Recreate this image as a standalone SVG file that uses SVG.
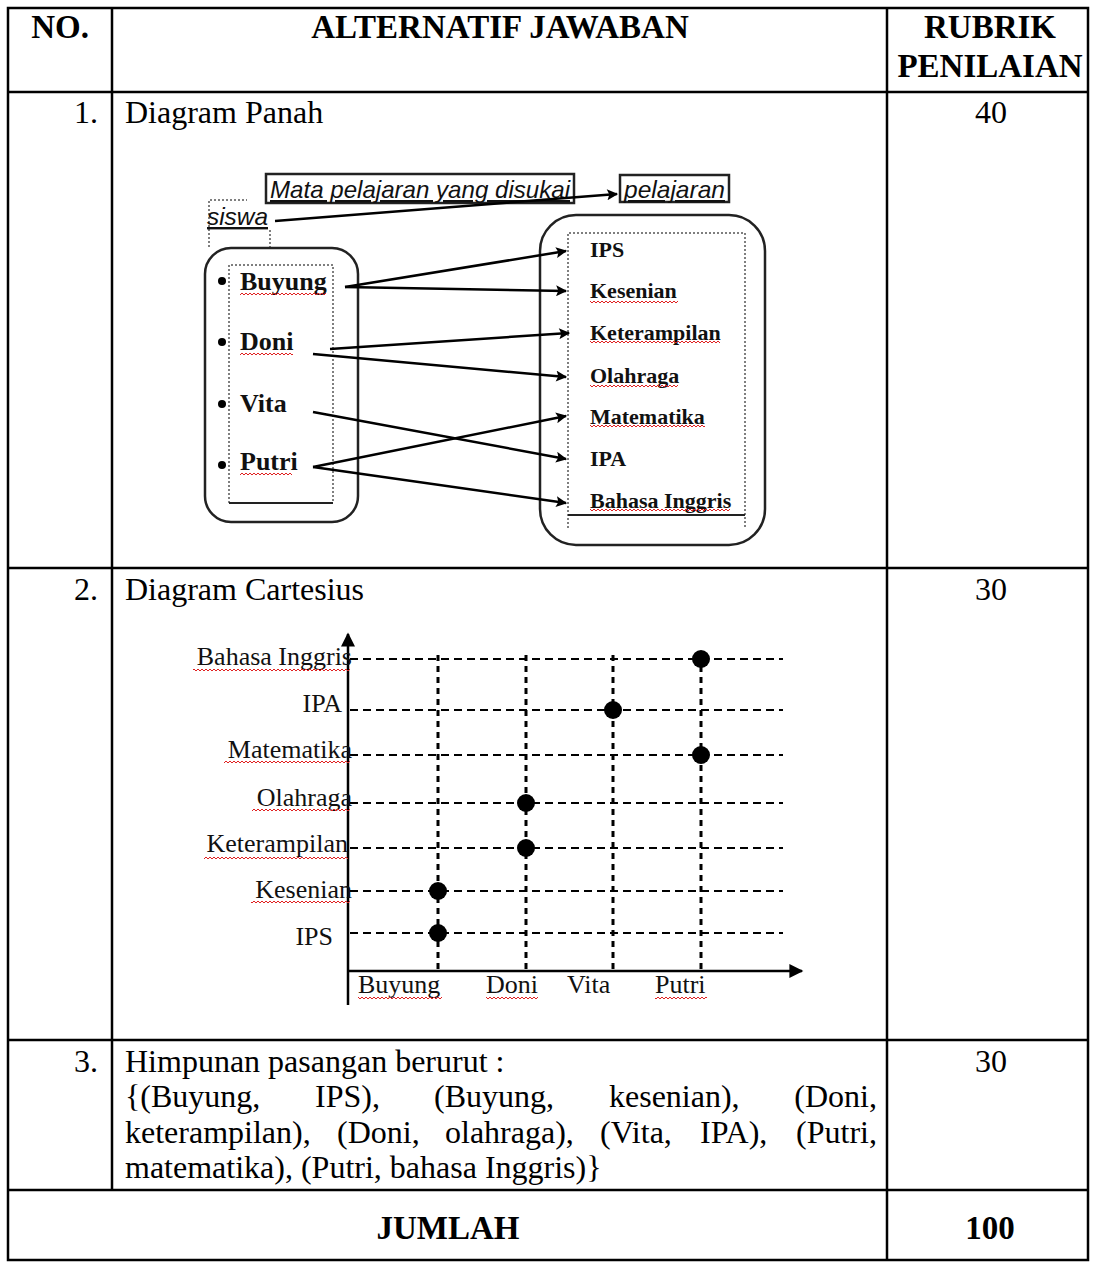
<svg xmlns="http://www.w3.org/2000/svg" width="1093" height="1265" viewBox="0 0 1093 1265">
<style>
.tb{fill:none;stroke:#000;stroke-width:2.5}
.t{font-family:"Liberation Serif","Times New Roman",serif;font-size:32px;fill:#000}
.h{font-size:33px;font-weight:bold}
.b{font-weight:bold}
.c{text-anchor:middle}
.e{text-anchor:end}
.nm{font-family:"Liberation Serif","Times New Roman",serif;font-size:26px;font-weight:bold;fill:#111}
.it{font-family:"Liberation Sans",Arial,sans-serif;font-size:24px;font-style:italic;fill:#111;text-decoration:underline}
.rt{font-family:"Liberation Serif","Times New Roman",serif;font-size:22px;font-weight:bold;fill:#111}
.cl{font-family:"Liberation Serif","Times New Roman",serif;font-size:26px;fill:#111}
.ln{stroke:#000;stroke-width:2.5;fill:none}
.box{fill:none;stroke:#222;stroke-width:2.5}
.dot{fill:none;stroke:#555;stroke-width:1.5;stroke-dasharray:2 2}
.hg{stroke:#000;stroke-width:2;stroke-dasharray:8 5}
.vg{stroke:#000;stroke-width:3;stroke-dasharray:6 5}
.wv{fill:url(#wv)}
</style>
<defs>
<pattern id="wv" width="4" height="4" patternUnits="userSpaceOnUse"><path d="M0,3 L2,1 L4,3" stroke="#e02020" stroke-width="1" fill="none"/></pattern>
<marker id="ah" viewBox="0 0 10 10" refX="9" refY="5" markerUnits="userSpaceOnUse" markerWidth="13" markerHeight="11" orient="auto"><path d="M0,0 L10,5 L0,10 L2,5 z" fill="#000"/></marker>
<marker id="ax" viewBox="0 0 10 10" refX="9" refY="5" markerUnits="userSpaceOnUse" markerWidth="16" markerHeight="14" orient="auto"><path d="M0,0 L10,5 L0,10 z" fill="#000"/></marker>
</defs>
<rect width="1093" height="1265" fill="#fff"/>

<g id="table">
<rect class="tb" x="8" y="8" width="1080" height="1252"/>
<line class="tb" x1="8" y1="92" x2="1088" y2="92"/>
<line class="tb" x1="8" y1="568" x2="1088" y2="568"/>
<line class="tb" x1="8" y1="1040" x2="1088" y2="1040"/>
<line class="tb" x1="8" y1="1190" x2="1088" y2="1190"/>
<line class="tb" x1="112" y1="8" x2="112" y2="1190"/>
<line class="tb" x1="887" y1="8" x2="887" y2="1260"/>
</g>

<g id="header">
<text class="t h c" x="60" y="38">NO.</text>
<text class="t h c" x="500" y="38">ALTERNATIF JAWABAN</text>
<text class="t h c" x="990" y="38">RUBRIK</text>
<text class="t h c" x="990" y="77">PENILAIAN</text>
</g>

<g id="row1">
<text class="t e" x="98" y="123">1.</text>
<text class="t" x="125" y="123">Diagram Panah</text>
<text class="t c" x="991" y="123">40</text>
</g>

<g id="arrow-diagram">
<g id="title-box">
<rect class="box" x="266" y="174" width="308" height="29" stroke-width="2"/>
<text class="it" x="270" y="198" textLength="300" lengthAdjust="spacingAndGlyphs">Mata pelajaran yang disukai</text>
</g>
<g id="pelajaran-box">
<rect class="box" x="620" y="175" width="109" height="27" stroke-width="2"/>
<text class="it" x="624" y="198" textLength="101" lengthAdjust="spacingAndGlyphs">pelajaran</text>
</g>
<g id="siswa-box">
<path class="dot" d="M209,247 V200 H247 M270,230 V248"/>
<text class="it" x="207" y="225" textLength="61" lengthAdjust="spacingAndGlyphs">siswa</text>
</g>
<g id="set-siswa">
<rect class="box" x="205" y="248" width="153" height="274" rx="26"/>
<path class="dot" d="M229,503 V265 H333 V503"/>
<line x1="229" y1="503" x2="333" y2="503" stroke="#222" stroke-width="2"/>
<circle cx="222" cy="281" r="4"/><circle cx="222" cy="342" r="4"/><circle cx="222" cy="404" r="4"/><circle cx="222" cy="465" r="4"/>
<text class="nm" x="240" y="290">Buyung</text>
<text class="nm" x="240" y="350">Doni</text>
<text class="nm" x="240" y="412">Vita</text>
<text class="nm" x="240" y="470">Putri</text>
<rect class="wv" x="240" y="292" width="86" height="4"/>
<rect class="wv" x="240" y="352" width="53" height="4"/>
<rect class="wv" x="240" y="472" width="52" height="4"/>
</g>
<g id="set-pelajaran">
<rect class="box" x="540" y="215" width="225" height="330" rx="36"/>
<path class="dot" d="M568,528 V233 H745 V528"/>
<line x1="568" y1="515" x2="745" y2="515" stroke="#222" stroke-width="2"/>
<text class="rt" x="590" y="257">IPS</text>
<text class="rt" x="590" y="298">Kesenian</text>
<text class="rt" x="590" y="340">Keterampilan</text>
<text class="rt" x="590" y="383">Olahraga</text>
<text class="rt" x="590" y="424">Matematika</text>
<text class="rt" x="590" y="466">IPA</text>
<text class="rt" x="590" y="508">Bahasa Inggris</text>
<rect class="wv" x="590" y="300" width="88" height="4"/>
<rect class="wv" x="590" y="340" width="130" height="4"/>
<rect class="wv" x="590" y="384" width="88" height="4"/>
<rect class="wv" x="590" y="424" width="115" height="4"/>
<rect class="wv" x="590" y="508" width="140" height="4"/>
</g>
<g id="connectors-panah">
<line class="ln" x1="275" y1="221" x2="617" y2="194" marker-end="url(#ah)"/>
<line class="ln" x1="345" y1="287" x2="566" y2="251" marker-end="url(#ah)"/>
<line class="ln" x1="345" y1="287" x2="566" y2="291" marker-end="url(#ah)"/>
<line class="ln" x1="330" y1="349" x2="569" y2="333" marker-end="url(#ah)"/>
<line class="ln" x1="313" y1="354" x2="566" y2="377" marker-end="url(#ah)"/>
<line class="ln" x1="313" y1="412" x2="566" y2="459" marker-end="url(#ah)"/>
<line class="ln" x1="313" y1="467" x2="566" y2="416" marker-end="url(#ah)"/>
<line class="ln" x1="313" y1="467" x2="566" y2="503" marker-end="url(#ah)"/>
</g>
</g>

<g id="row2">
<text class="t e" x="98" y="600">2.</text>
<text class="t" x="125" y="600">Diagram Cartesius</text>
<text class="t c" x="991" y="600">30</text>
</g>

<g id="cartesius">
<g id="grid">
<line class="hg" x1="350" y1="659" x2="783" y2="659"/>
<line class="hg" x1="350" y1="710" x2="783" y2="710"/>
<line class="hg" x1="350" y1="755" x2="783" y2="755"/>
<line class="hg" x1="350" y1="803" x2="783" y2="803"/>
<line class="hg" x1="350" y1="848" x2="783" y2="848"/>
<line class="hg" x1="350" y1="891" x2="783" y2="891"/>
<line class="hg" x1="350" y1="933" x2="783" y2="933"/>
<line class="vg" x1="438" y1="655" x2="438" y2="970"/>
<line class="vg" x1="526" y1="655" x2="526" y2="970"/>
<line class="vg" x1="613" y1="655" x2="613" y2="970"/>
<line class="vg" x1="701" y1="655" x2="701" y2="970"/>
</g>
<g id="axes">
<line class="ln" x1="348" y1="1005" x2="348" y2="634" marker-end="url(#ax)"/>
<line class="ln" x1="347" y1="971" x2="802" y2="971" marker-end="url(#ax)"/>
</g>
<g id="points">
<circle cx="701" cy="659" r="9"/>
<circle cx="613" cy="710" r="9"/>
<circle cx="701" cy="755" r="9"/>
<circle cx="526" cy="803" r="9"/>
<circle cx="526" cy="848" r="9"/>
<circle cx="438" cy="891" r="9"/>
<circle cx="438" cy="933" r="9"/>
</g>
<g id="y-labels">
<text class="cl e" x="352" y="665">Bahasa Inggris</text>
<text class="cl e" x="342" y="712">IPA</text>
<text class="cl e" x="352" y="758">Matematika</text>
<text class="cl e" x="352" y="806">Olahraga</text>
<text class="cl e" x="348" y="852">Keterampilan</text>
<text class="cl e" x="352" y="898">Kesenian</text>
<text class="cl e" x="333" y="945">IPS</text>
<rect class="wv" x="193" y="668" width="157" height="4"/>
<rect class="wv" x="224" y="760" width="126" height="4"/>
<rect class="wv" x="252" y="808" width="98" height="4"/>
<rect class="wv" x="204" y="856" width="144" height="4"/>
<rect class="wv" x="251" y="900" width="99" height="4"/>
</g>
<g id="x-labels">
<text class="cl" x="358" y="993">Buyung</text>
<text class="cl" x="486" y="993">Doni</text>
<text class="cl" x="567" y="993">Vita</text>
<text class="cl" x="655" y="993">Putri</text>
<rect class="wv" x="358" y="996" width="84" height="4"/>
<rect class="wv" x="486" y="996" width="52" height="4"/>
<rect class="wv" x="655" y="996" width="52" height="4"/>
</g>
</g>

<g id="row3">
<text class="t e" x="98" y="1072">3.</text>
<text class="t" x="125" y="1072">Himpunan pasangan berurut :</text>
<text class="t" y="1107"><tspan x="125">{(Buyung,</tspan><tspan x="315">IPS),</tspan><tspan x="434">(Buyung,</tspan><tspan x="609">kesenian),</tspan><tspan x="877" text-anchor="end">(Doni,</tspan></text>
<text class="t" y="1143"><tspan x="125">keterampilan),</tspan><tspan x="337">(Doni,</tspan><tspan x="445">olahraga),</tspan><tspan x="600">(Vita,</tspan><tspan x="700">IPA),</tspan><tspan x="877" text-anchor="end">(Putri,</tspan></text>
<text class="t" x="125" y="1178">matematika), (Putri, bahasa Inggris)}</text>
<text class="t c" x="991" y="1072">30</text>
</g>

<g id="total">
<text class="t h c" x="448" y="1239">JUMLAH</text>
<text class="t h c" x="990" y="1239">100</text>
</g>
</svg>
